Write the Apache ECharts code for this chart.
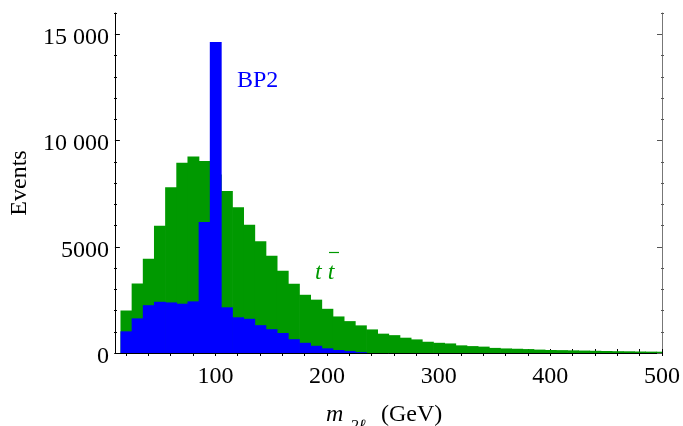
<!DOCTYPE html>
<html>
<head>
<meta charset="utf-8">
<title>m2l histogram</title>
<script src="https://cdn.jsdelivr.net/npm/echarts@6/dist/echarts.min.js"></script>
<style>
    html, body { margin: 0; padding: 0; background: #fff; }
    #chart { width: 683px; height: 426px; }
</style>
</head>
<body>
<div id="chart"></div>
<script>
// bin centres in GeV, 10 GeV wide
const binWidth = 10
const binCenters = [
    20, 30, 40, 50, 60, 70, 80, 90, 100, 110,
    120, 130, 140, 150, 160, 170, 180, 190, 200, 210,
    220, 230, 240, 250, 260, 270, 280, 290, 300, 310,
    320, 330, 340, 350, 360, 370, 380, 390, 400, 410,
    420, 430, 440, 450, 460, 470, 480, 490, 500
]
// t tbar background
const ttbarEvents = [
    2000, 3270, 4430, 5990, 7800, 8950, 9250, 9030, 8400, 7620,
    6860, 6030, 5260, 4580, 3870, 3260, 2740, 2510, 2080, 1720,
    1500, 1300, 1110, 910, 840, 720, 640, 530, 480, 450,
    360, 325, 300, 240, 215, 200, 185, 160, 140, 135,
    125, 115, 105, 95, 85, 80, 70, 65, 60
]
// BP2 signal
const bp2Events = [
    1020, 1630, 2250, 2410, 2380, 2320, 2430, 6160, 14640, 2150,
    1680, 1610, 1310, 1120, 940, 650, 480, 340, 220, 140,
    90, 40, 0, 0, 0, 0, 0, 0, 0, 0,
    0, 0, 0, 0, 0, 0, 0, 0, 0, 0,
    0, 0, 0, 0, 0, 0, 0, 0, 0
]
const xLabelValues = [100, 200, 300, 400, 500]
const xTickValues = [20, 40, 60, 80, 100, 120, 140, 160, 180, 200, 220, 240, 260, 280, 300,
    320, 340, 360, 380, 400, 420, 440, 460, 480, 500]
const yMajorValues = [0, 5000, 10000, 15000]
const yMinorValues = [1000, 2000, 3000, 4000, 6000, 7000, 8000, 9000, 11000, 12000, 13000, 14000, 16000]

const serif = '"Liberation Serif", "DejaVu Serif", serif'
const green = '#009900'
const blue = '#0000ff'

function histItem(color) {
    return function (params, api) {
        const c = api.value(0)
        const v = api.value(1)
        const p0 = api.coord([c - binWidth / 2, v])
        const p1 = api.coord([c + binWidth / 2, 0])
        const cs = params.coordSys
        // a little overlap so neighbouring bins leave no seam
        const shape = echarts.graphic.clipRectByRect(
            { x: p0[0], y: p0[1], width: p1[0] - p0[0] + 0.7, height: p1[1] - p0[1] },
            { x: cs.x, y: cs.y, width: cs.width, height: cs.height }
        )
        return shape && {
            type: 'rect',
            shape: shape,
            style: { fill: color }
        }
    }
}

function formatCount(v) {
    const s = String(v)
    const txt = v >= 10000 ? s.slice(0, s.length - 3) + ' ' + s.slice(-3) : s
    return '{n|' + txt + '}'
}

const gridBox = { left: 114, right: 19, top: 13, bottom: 73 }

const chart = echarts.init(document.getElementById('chart'), null, { renderer: 'canvas' })

chart.setOption({
    animation: false,
    grid: [gridBox, gridBox],
    xAxis: [{
        gridIndex: 0,
        type: 'value',
        position: 'bottom',
        min: 10,
        max: 500,
        axisLine: { lineStyle: { color: '#000', width: 1 } },
        axisTick: { inside: true, length: 4, customValues: xTickValues, lineStyle: { color: '#000' } },
        axisLabel: {
            customValues: xLabelValues,
            margin: 12,
            color: '#000',
            fontFamily: serif,
            fontSize: 24
        },
        splitLine: { show: false }
    }, {
        gridIndex: 0,
        type: 'value',
        position: 'top',
        min: 10,
        max: 500,
        axisLine: { lineStyle: { color: '#000', width: 1 } },
        axisTick: { inside: true, length: 3, customValues: xTickValues, lineStyle: { color: '#000' } },
        axisLabel: { show: false },
        splitLine: { show: false }
    }, {
        gridIndex: 1,
        type: 'value',
        min: 10,
        max: 500,
        show: false
    }],
    yAxis: [{
        gridIndex: 0,
        type: 'value',
        position: 'left',
        min: 0,
        max: 16000,
        name: 'Events',
        nameLocation: 'middle',
        nameGap: 80,
        nameTextStyle: { color: '#000', fontFamily: serif, fontSize: 24 },
        axisLine: { show: true, lineStyle: { color: '#000', width: 1 } },
        axisTick: { show: true, inside: true, length: 5, customValues: yMajorValues, lineStyle: { color: '#000' } },
        axisLabel: {
            customValues: yMajorValues,
            formatter: formatCount,
            margin: 6,
            rich: {
                n: { color: '#000', fontFamily: serif, fontSize: 24, padding: [7, 0, 0, 0] }
            }
        },
        splitLine: { show: false }
    }, {
        gridIndex: 0,
        type: 'value',
        position: 'right',
        min: 0,
        max: 16000,
        axisLine: { show: true, lineStyle: { color: '#777', width: 1 } },
        axisTick: { show: true, inside: true, length: 5, customValues: yMajorValues, lineStyle: { color: '#555' } },
        axisLabel: { show: false },
        splitLine: { show: false }
    }, {
        // minor ticks, left
        gridIndex: 1,
        type: 'value',
        position: 'left',
        min: 0,
        max: 16000,
        axisLine: { show: false },
        axisTick: { show: true, inside: true, length: 3, customValues: yMinorValues, lineStyle: { color: '#000' } },
        axisLabel: { show: false },
        splitLine: { show: false }
    }, {
        // minor ticks, right
        gridIndex: 1,
        type: 'value',
        position: 'right',
        min: 0,
        max: 16000,
        axisLine: { show: false },
        axisTick: { show: true, inside: true, length: 3, customValues: yMinorValues, lineStyle: { color: '#555' } },
        axisLabel: { show: false },
        splitLine: { show: false }
    }],
    series: [{
        name: 'ttbar',
        type: 'custom',
        xAxisIndex: 0,
        yAxisIndex: 0,
        renderItem: histItem(green),
        encode: { x: 0, y: 1 },
        data: binCenters.map((c, i) => [c, ttbarEvents[i]]),
        z: 1
    }, {
        name: 'BP2',
        type: 'custom',
        xAxisIndex: 0,
        yAxisIndex: 0,
        renderItem: histItem(blue),
        encode: { x: 0, y: 1 },
        data: binCenters.map((c, i) => [c, bp2Events[i]]),
        z: 2
    }],
    graphic: [{
        type: 'text',
        left: 237,
        top: 69,
        style: { text: 'BP2', fill: blue, font: '24px ' + serif }
    }, {
        type: 'text',
        left: 315,
        top: 261,
        style: { text: 't t', fill: green, font: 'italic 24px ' + serif }
    }, {
        type: 'line',
        shape: { x1: 329, y1: 252.5, x2: 339, y2: 252.5 },
        style: { stroke: green, lineWidth: 1.2 }
    }, {
        type: 'text',
        left: 326,
        top: 403,
        style: { text: 'm', fill: '#000', font: 'italic 24px ' + serif }
    }, {
        type: 'text',
        left: 350,
        top: 418,
        style: { text: '2ℓ', fill: '#000', font: 'italic 17px ' + serif }
    }, {
        type: 'text',
        left: 381,
        top: 403,
        style: { text: '(GeV)', fill: '#000', font: '24px ' + serif }
    }]
})
</script>
</body>
</html>
